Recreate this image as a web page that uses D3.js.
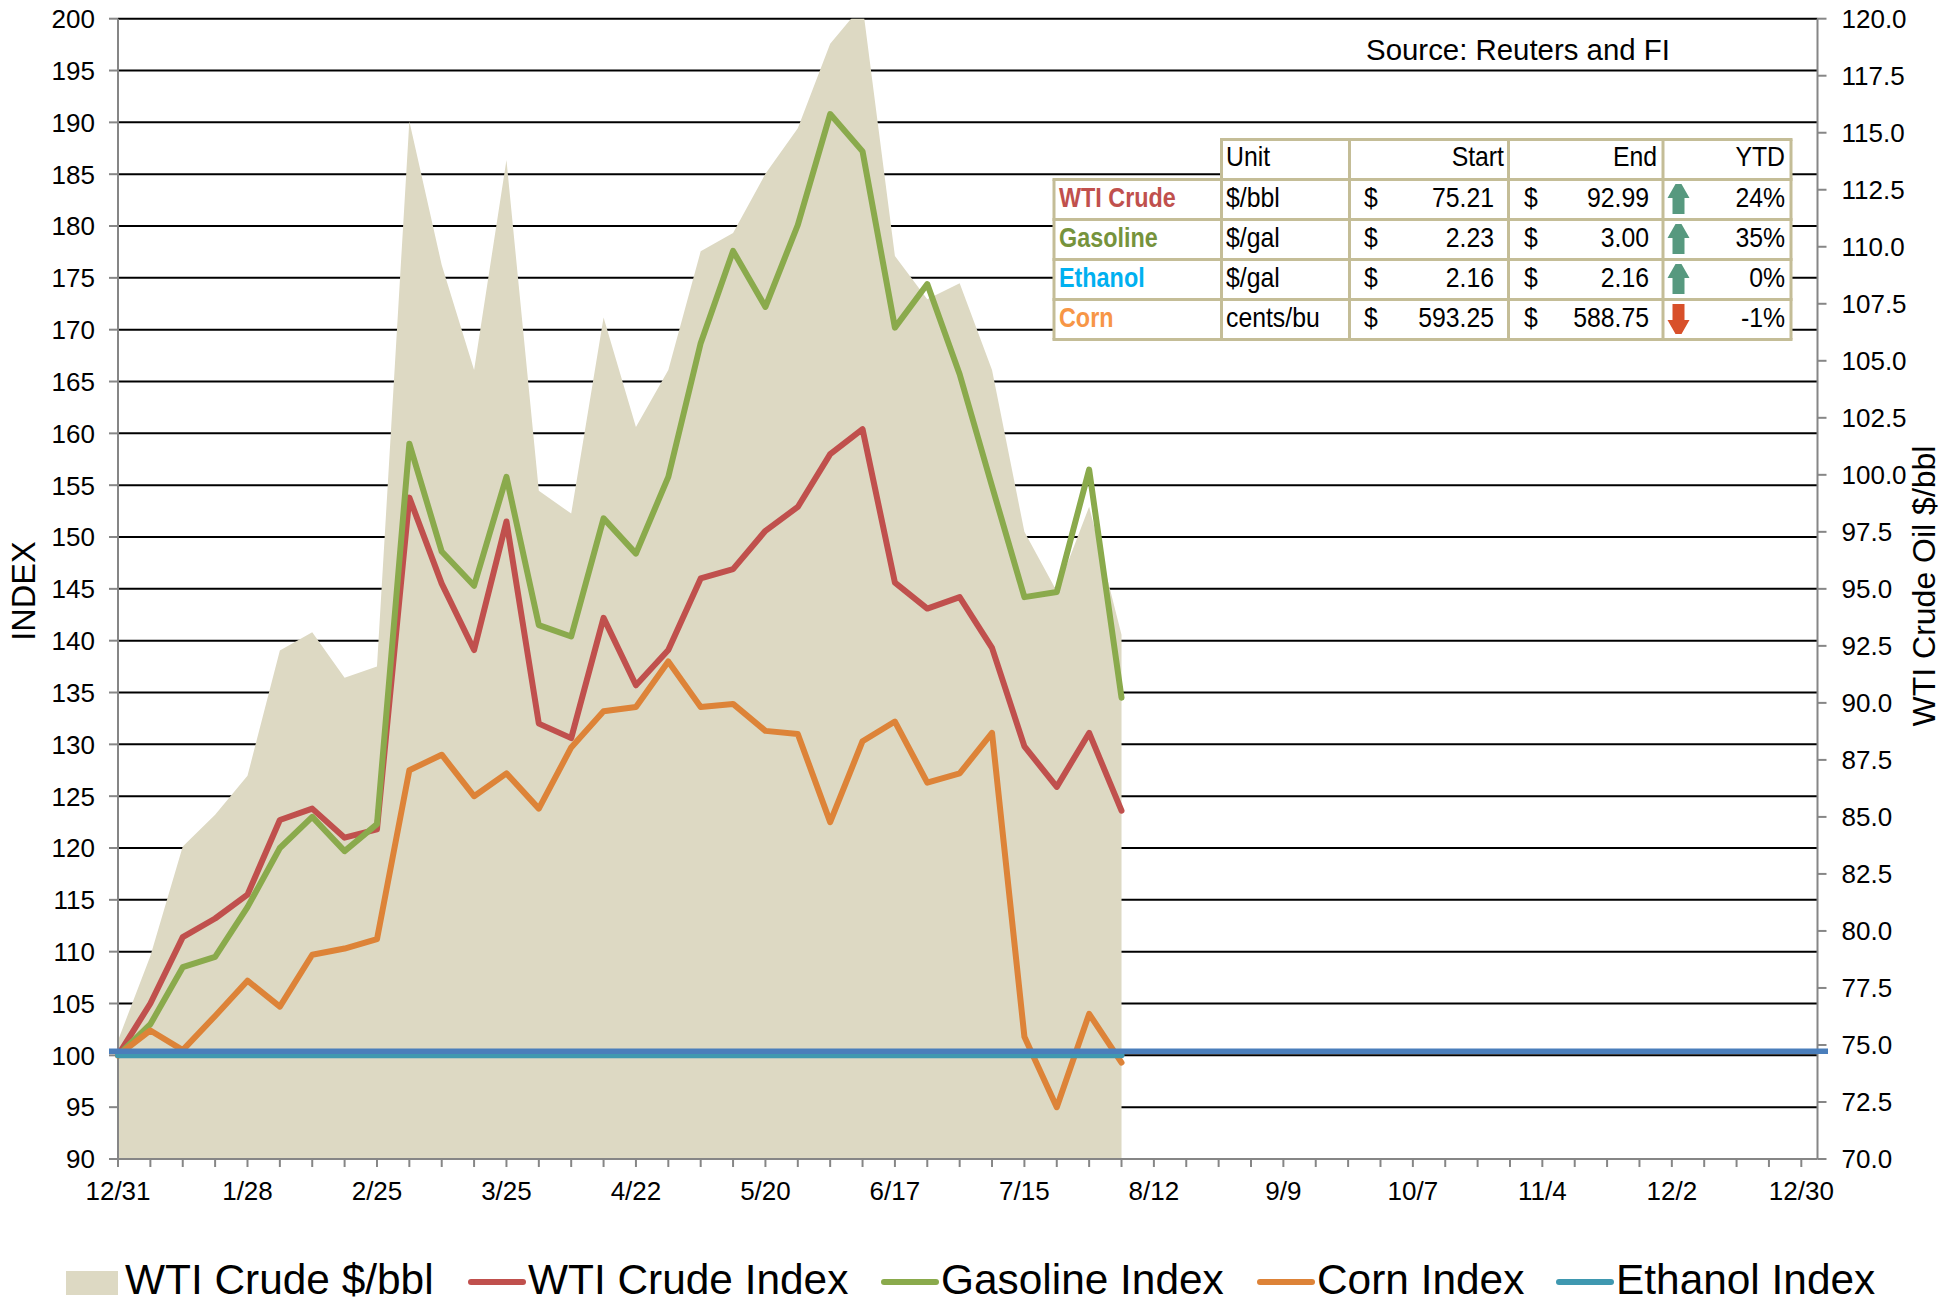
<!DOCTYPE html>
<html>
<head>
<meta charset="utf-8">
<script src="https://cdn.jsdelivr.net/npm/d3@7"></script>
<style>
  html, body { margin: 0; padding: 0; background: #fff; }
  svg { display: block; }
  text { font-family: "Liberation Sans", Arial, sans-serif; fill: #000; }
</style>
</head>
<body>
<div id="chart"></div>
<script>
// weekly readings, 12/31 through 8/5
const crudePrice = [75.2, 78.9, 83.7, 85.1, 86.8, 92.3, 93.1, 91.1, 91.6, 115.5, 109.2, 104.6, 113.8, 99.3, 98.3, 106.9,
  102.1, 104.6, 109.8, 110.6, 113.2, 115.2, 118.9, 120.6, 109.6, 107.7, 108.4, 104.6, 97.5, 94.9, 98.6, 92.99];
const crudeIndex = [100, 105, 111.4, 113.2, 115.5, 122.7, 123.8, 121, 121.8, 153.8, 145.5, 139.1, 151.5, 132, 130.6, 142.2,
  135.7, 139.1, 146, 146.9, 150.6, 152.9, 158, 160.4, 145.6, 143.1, 144.2, 139.3, 129.8, 125.9, 131.1, 123.6];
const gasolineIndex = [100, 103, 108.5, 109.5, 114.3, 120, 123, 119.7, 122.3, 159, 148.6, 145.3, 155.8, 141.5, 140.4, 151.8,
  148.4, 155.8, 168.7, 177.6, 172.2, 180.1, 190.8, 187.2, 170.2, 174.4, 165.7, 154.9, 144.2, 144.7, 156.5, 134.5];
const cornIndex = [100, 102.4, 100.5, 103.8, 107.2, 104.7, 109.7, 110.3, 111.2, 127.5, 129, 125, 127.2, 123.8, 129.7, 133.2,
  133.6, 138, 133.6, 133.9, 131.3, 131, 122.5, 130.3, 132.2, 126.3, 127.2, 131.1, 101.8, 95, 104, 99.3];
const ethanolIndex = [100, 100, 100, 100, 100, 100, 100, 100, 100, 100, 100, 100, 100, 100, 100, 100,
  100, 100, 100, 100, 100, 100, 100, 100, 100, 100, 100, 100, 100, 100, 100, 100];
const baseLineValue = 100.4;

const dateLabels = ["12/31", "1/28", "2/25", "3/25", "4/22", "5/20", "6/17", "7/15", "8/12", "9/9", "10/7", "11/4", "12/2", "12/30"];

const tableHeader = ["Unit", "Start", "End", "YTD"];
const tableNames = ["WTI Crude", "Gasoline", "Ethanol", "Corn"];
const tableUnits = ["$/bbl", "$/gal", "$/gal", "cents/bu"];
const tableStart = ["75.21", "2.23", "2.16", "593.25"];
const tableEnd = ["92.99", "3.00", "2.16", "588.75"];
const tableYtd = ["24%", "35%", "0%", "-1%"];
const tableColors = ["#C0504D", "#76933C", "#00B0F0", "#F79646"];

const legendNames = ["WTI Crude $/bbl", "WTI Crude Index", "Gasoline Index", "Corn Index", "Ethanol Index"];
const legendColors = ["#DDD9C3", "#C0504D", "#8AAA4C", "#DD8338", "#3F98B0"];
const legendX = [66, 469, 882, 1258, 1557];

const width = 1956;
const height = 1303;
const plotLeft = 118, plotRight = 1817.5, plotTop = 18.7, plotBottom = 1159;

const svg = d3.select("#chart").append("svg")
  .attr("width", width)
  .attr("height", height);

const x = d3.scaleLinear().domain([0, 52.5]).range([plotLeft, plotRight]);
const yIndex = d3.scaleLinear().domain([90, 200]).range([plotBottom, plotTop]);
const yPrice = d3.scaleLinear().domain([70, 120]).range([plotBottom, plotTop]);

svg.append("defs").append("clipPath").attr("id", "plot")
  .append("rect")
  .attr("x", plotLeft).attr("y", plotTop)
  .attr("width", plotRight - plotLeft).attr("height", plotBottom - plotTop);

// gridlines
svg.append("g")
  .selectAll("line")
  .data(d3.range(95, 201, 5)).enter()
  .append("line")
  .attr("x1", plotLeft).attr("x2", plotRight)
  .attr("y1", (d) => yIndex(d)).attr("y2", (d) => yIndex(d))
  .style("stroke", "#000")
  .style("stroke-width", 2);

// price area
const area = d3.area()
  .x((d, i) => x(i))
  .y0(plotBottom)
  .y1((d) => yPrice(d));

svg.append("path")
  .datum(crudePrice)
  .attr("clip-path", "url(#plot)")
  .attr("d", area)
  .style("fill", "#DDD9C3");

// axes
function styleAxis(g) {
  g.selectAll("path, line").style("stroke", "#868686").style("stroke-width", 2);
  g.selectAll("text").style("font-size", "26px")
    .style("font-family", '"Liberation Sans", Arial, sans-serif').style("fill", "#000")
    .attr("transform", "translate(0,1)");
}

svg.append("g")
  .attr("transform", `translate(${plotLeft},0)`)
  .call(d3.axisLeft(yIndex).tickValues(d3.range(90, 201, 5)).tickSize(9).tickSizeOuter(0).tickPadding(14).offset(0))
  .call(styleAxis);

svg.append("g")
  .attr("transform", `translate(${plotRight},0)`)
  .call(d3.axisRight(yPrice).tickValues(d3.range(70, 120.1, 2.5)).tickSize(9).tickSizeOuter(0).tickPadding(15).offset(0)
    .tickFormat(d3.format(".1f")))
  .call(styleAxis);

svg.append("g")
  .attr("transform", `translate(0,${plotBottom})`)
  .call(d3.axisBottom(x).tickValues(d3.range(0, 53)).tickSize(8).tickSizeOuter(0).tickPadding(14).offset(0)
    .tickFormat((d) => d % 4 === 0 ? dateLabels[d / 4] : ""))
  .call(styleAxis);

// series
const line = d3.line()
  .x((d, i) => x(i))
  .y((d) => yIndex(d));

const series = [
  { values: crudeIndex, color: legendColors[1] },
  { values: gasolineIndex, color: legendColors[2] },
  { values: cornIndex, color: legendColors[3] },
  { values: ethanolIndex, color: legendColors[4] }
];

svg.append("g")
  .selectAll("path")
  .data(series).enter()
  .append("path")
  .attr("d", (d) => line(d.values))
  .style("fill", "none")
  .style("stroke", (d) => d.color)
  .style("stroke-width", 6)
  .style("stroke-linejoin", "round")
  .style("stroke-linecap", "round");

// blue line across the whole plot, runs past both axes
svg.append("line")
  .attr("x1", plotLeft - 9).attr("x2", plotRight + 10.5)
  .attr("y1", yIndex(baseLineValue)).attr("y2", yIndex(baseLineValue))
  .style("stroke", "#4A7EBB")
  .style("stroke-width", 5.5);

// axis titles
svg.append("text")
  .attr("transform", `translate(35,591) rotate(-90)`)
  .attr("text-anchor", "middle")
  .style("font-size", "32.5px")
  .text("INDEX");

svg.append("text")
  .attr("transform", `translate(1935,586) rotate(-90)`)
  .attr("text-anchor", "middle")
  .style("font-size", "32px")
  .text("WTI Crude Oil $/bbl");

svg.append("text")
  .attr("x", 1518).attr("y", 60)
  .attr("text-anchor", "middle")
  .style("font-size", "29.4px")
  .text("Source: Reuters and FI");

// table
const colX = [1054, 1221.5, 1349.5, 1508.5, 1663, 1791];
const rowY = [139.5, 179.5, 219.5, 259.5, 299.5, 339.5];
const border = "#C4BD97";
const table = svg.append("g");

table.append("rect")
  .attr("x", colX[1]).attr("y", rowY[0])
  .attr("width", colX[5] - colX[1]).attr("height", rowY[1] - rowY[0])
  .style("fill", "#fff");
table.append("rect")
  .attr("x", colX[0]).attr("y", rowY[1])
  .attr("width", colX[5] - colX[0]).attr("height", rowY[5] - rowY[1])
  .style("fill", "#fff");

table.selectAll(".hline")
  .data(rowY).enter()
  .append("line")
  .attr("class", "hline")
  .attr("x1", (d, i) => i === 0 ? colX[1] - 1.5 : colX[0] - 1.5)
  .attr("x2", colX[5] + 1.5)
  .attr("y1", (d) => d).attr("y2", (d) => d)
  .style("stroke", border).style("stroke-width", 3);

table.selectAll(".vline")
  .data(colX).enter()
  .append("line")
  .attr("class", "vline")
  .attr("x1", (d) => d).attr("x2", (d) => d)
  .attr("y1", (d, i) => i === 0 ? rowY[1] : rowY[0])
  .attr("y2", rowY[5])
  .style("stroke", border).style("stroke-width", 3);

function cell(x0, y0, txt, anchor, opts) {
  const o = opts || {};
  table.append("text")
    .attr("transform", `translate(${x0},${y0}) scale(${o.bold ? 0.82 : 0.87},1)`)
    .attr("text-anchor", anchor)
    .style("font-size", "28.5px")
    .style("font-weight", o.bold ? "bold" : "normal")
    .style("fill", o.color || "#000")
    .text(txt);
}

const headerBase = 166;
cell(1226, headerBase, tableHeader[0], "start");
cell(1504, headerBase, tableHeader[1], "end");
cell(1657, headerBase, tableHeader[2], "end");
cell(1785, headerBase, tableHeader[3], "end");

const upArrow = "M-3,-15 L3,-15 L11,-1 L6,-1 L6,15 L-6,15 L-6,-1 L-11,-1 Z";
const downArrow = "M-6,-15 L6,-15 L6,1 L11,1 L3,15 L-3,15 L-11,1 L-6,1 Z";

tableNames.forEach((name, i) => {
  const base = 207 + i * 40;
  cell(1059, base, name, "start", { bold: true, color: tableColors[i] });
  cell(1226, base, tableUnits[i], "start");
  cell(1371, base, "$", "middle");
  cell(1494, base, tableStart[i], "end");
  cell(1531, base, "$", "middle");
  cell(1649, base, tableEnd[i], "end");
  cell(1785, base, tableYtd[i], "end");
  const down = tableYtd[i].startsWith("-");
  table.append("path")
    .attr("transform", `translate(1678.5,${base - 8})`)
    .attr("d", down ? downArrow : upArrow)
    .style("fill", down ? "#D8502A" : "#57997F");
});

// legend
const legend = svg.append("g");
legendNames.forEach((name, i) => {
  if (i === 0) {
    legend.append("rect")
      .attr("x", legendX[i]).attr("y", 1271)
      .attr("width", 52).attr("height", 24)
      .style("fill", legendColors[i]);
  } else {
    legend.append("line")
      .attr("x1", legendX[i] + 2).attr("x2", legendX[i] + 54)
      .attr("y1", 1282).attr("y2", 1282)
      .style("stroke", legendColors[i])
      .style("stroke-width", 6)
      .style("stroke-linecap", "round");
  }
  legend.append("text")
    .attr("x", legendX[i] + 59).attr("y", 1294)
    .style("font-size", "42.4px")
    .text(name);
});
</script>
</body>
</html>
